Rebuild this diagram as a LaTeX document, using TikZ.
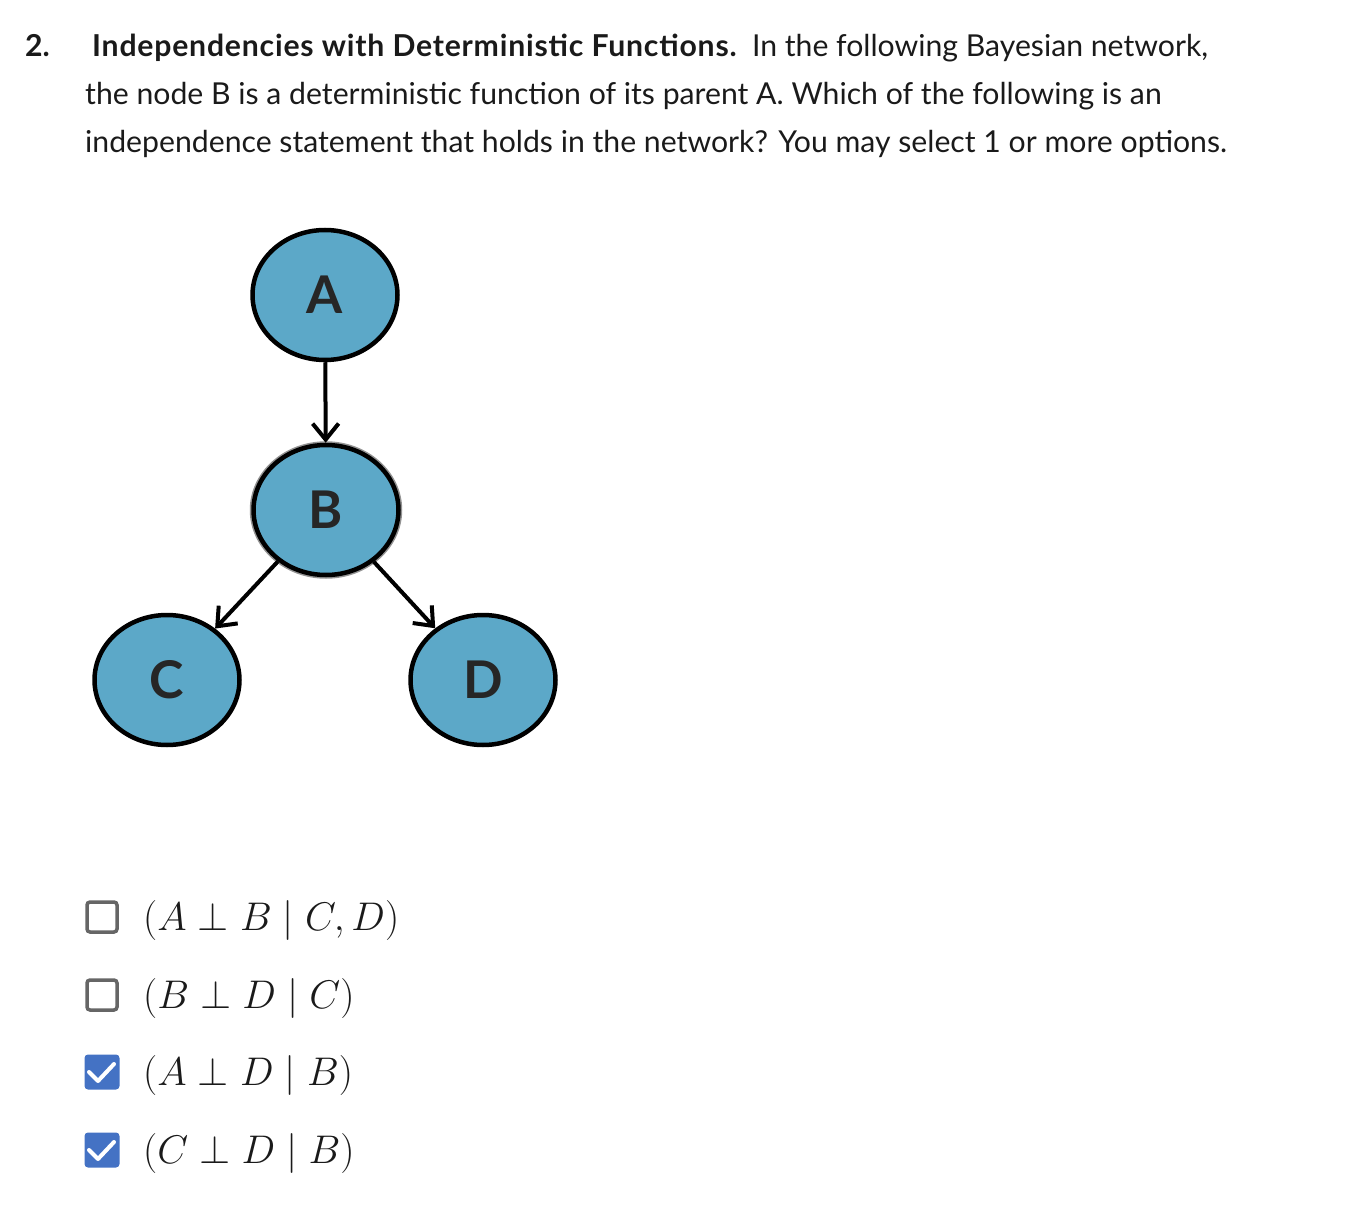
\RequirePackage{fix-cm}
\documentclass[tikz,border=0pt]{standalone}
\usepackage{amsmath}
\usepackage{fontspec}
\setmainfont{Lato}
\usetikzlibrary{arrows.meta,shapes.geometric}

\definecolor{nodeblue}{RGB}{92,168,200}
\definecolor{tickblue}{RGB}{68,114,196}
\definecolor{boxgray}{RGB}{102,102,102}
\definecolor{ink}{RGB}{26,26,26}

\tikzset{
  bnode/.style={draw=black, line width=4.5pt, fill=nodeblue, ellipse,
    minimum width=145pt, minimum height=130pt, inner sep=0pt,
    font=\fontsize{52}{52}\selectfont\bfseries, text=black!85},
  detnode/.style={bnode, preaction={draw=gray!85, line width=7.5pt}},
  bedge/.style={line width=4pt, -{Straight Barb[length=16pt,width=26pt,line width=4pt]}},
  para/.style={anchor=base west, inner sep=0pt, text=ink,
    font=\fontsize{30.2}{30}\selectfont},
  opt/.style={anchor=base west, inner sep=0pt, text=ink,
    font=\fontsize{40}{40}\selectfont},
  emptybox/.style={draw=boxgray, line width=3.5pt, rounded corners=3pt,
    minimum size=30pt, inner sep=0pt},
  tickbox/.style={fill=tickblue, rounded corners=3.5pt,
    minimum size=35pt, inner sep=0pt},
  tick/.style={draw=white, line width=4pt, line cap=round, line join=round}
}
\newcommand{\titletext}[1]{{\bfseries\addfontfeatures{LetterSpace=2.6}#1}}

\begin{document}
\begin{tikzpicture}[x=1pt,y=-1pt]
\useasboundingbox (0,0) rectangle (1366,1206);

% question text
\node[para] (num) at (25,57) {\bfseries 2.};
\node[para] (l1) at (92,57) {\titletext{Independencies with Deterministic Functions.}\ \ In the following Bayesian network,};
\node[para] (l2) at (85,105) {the node B is a deterministic function of its parent A. Which of the following is an};
\node[para] (l3) at (85,153) {independence statement that holds in the network? You may select 1 or more options.};

% network
\node[bnode] (A) at (325,295) {A};
\node[detnode] (B) at (326,510) {B};
\node[bnode] (C) at (167,680) {C};
\node[bnode] (D) at (483,680) {D};

\path[draw,bedge] (A) -- (B);
\path[draw,bedge] (B) -- (C);
\path[draw,bedge] (B) -- (D);

% options
\node[emptybox] (box1) at (102,917) {};
\node[emptybox] (box2) at (102,995) {};
\node[tickbox] (box3) at (102,1072) {};
\node[tickbox] (box4) at (102,1150) {};

\path[tick] ([shift={(-13,0)}]box3.center) -- ([shift={(-4,9)}]box3.center) -- ([shift={(12,-8)}]box3.center);
\path[tick] ([shift={(-13,0)}]box4.center) -- ([shift={(-4,9)}]box4.center) -- ([shift={(12,-8)}]box4.center);

\node[opt] (o1) at (143,930) {$(A \perp B \mid C, D)$};
\node[opt] (o2) at (143,1008) {$(B \perp D \mid C)$};
\node[opt] (o3) at (143,1085) {$(A \perp D \mid B)$};
\node[opt] (o4) at (143,1163) {$(C \perp D \mid B)$};
\end{tikzpicture}
\end{document}
